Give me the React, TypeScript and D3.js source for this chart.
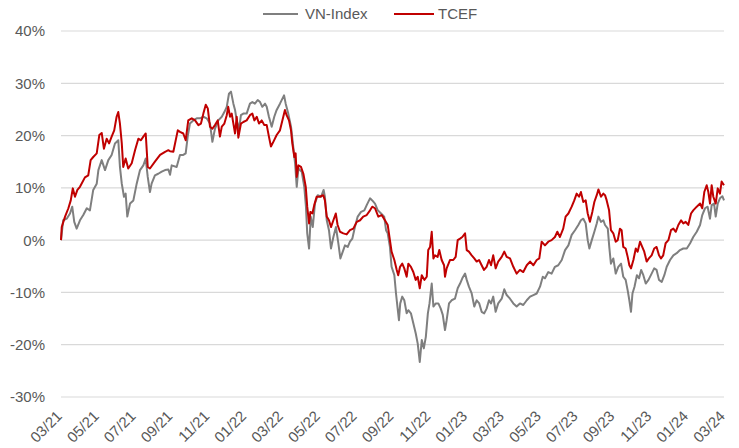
import React from "react";
import * as d3 from "d3";

// Time in months since 03/2021, value in %
const tickLabels = ["03/21","05/21","07/21","09/21","11/21","01/22","03/22","05/22","07/22","09/22","11/22","01/23","03/23","05/23","07/23","09/23","11/23","01/24","03/24"];
const yTicks = [-30, -20, -10, 0, 10, 20, 30, 40];

const vnIndex: [number, number][] = [
[0,0],[0.12,3.8],[0.31,4.1],[0.49,5.1],[0.61,6.4],[0.72,3.5],[0.85,2.2],[1.03,3.8],[1.21,4.8],[1.4,6.1],[1.57,5.7],[1.75,9.6],[1.94,10.8],[2.03,13.4],[2.21,15.3],[2.39,13.4],[2.57,15.3],[2.75,16.3],[2.93,18.5],[3.11,19.1],[3.2,14.0],[3.3,10.8],[3.42,8.3],[3.51,8.9],[3.6,4.5],[3.75,7.0],[3.93,7.6],[4.11,10.8],[4.29,13.4],[4.47,14.3],[4.6,15.6],[4.71,12.1],[4.83,9.2],[4.92,10.8],[5.1,12.4],[5.28,12.7],[5.47,13.1],[5.65,13.4],[5.83,13.5],[5.92,12.5],
[6.01,14.3],[6.28,14.0],[6.46,16.3],[6.64,16.3],[6.77,16.6],[6.88,19.8],[7.0,22.3],[7.18,22.9],[7.37,23.3],[7.55,23.3],[7.73,23.6],[7.91,23.3],[8.09,22.3],[8.22,18.8],[8.36,21.3],[8.54,22.9],[8.73,23.6],[8.87,24.5],[9.0,25.5],[9.12,28.0],[9.23,28.4],[9.36,26.1],[9.45,24.9],[9.54,22.9],[9.67,21.3],[9.77,23.9],[9.9,24.2],[10.08,24.2],[10.26,26.1],[10.39,26.4],[10.53,26.1],[10.68,26.8],[10.81,26.4],[10.93,25.5],[11.08,26.1],[11.17,25.5],[11.29,23.6],[11.44,21.7],[11.58,23.6],[11.71,24.9],[11.89,26.1],
[12.11,27.7],[12.2,26.1],[12.34,24.2],[12.49,21.7],[12.61,17.9],[12.71,14.7],[12.8,10.2],[12.89,13.7],[13.07,13.1],[13.21,10.2],[13.3,6.4],[13.37,1.3],[13.47,-1.6],[13.56,4.5],[13.67,2.5],[13.79,7.0],[13.94,8.6],[14.12,8.3],[14.26,9.6],[14.33,8.3],[14.43,3.8],[14.55,1.9],[14.66,-1.6],[14.79,0.6],[14.93,2.5],[15.06,-0.6],[15.17,-3.5],[15.3,-2.2],[15.42,-1.0],[15.57,-1.3],[15.69,-0.3],[15.82,0.3],[15.96,2.5],[16.11,4.5],[16.29,5.4],[16.47,5.7],[16.6,6.7],[16.78,8.0],[16.9,7.6],[17.05,7.0],[17.2,5.7],[17.38,5.1],[17.55,4.5],[17.65,1.9],[17.74,1.3],
[17.86,-1.3],[17.95,-5.1],[18.1,-6.7],[18.19,-10.2],[18.28,-13.1],[18.35,-15.3],[18.42,-12.1],[18.53,-10.8],[18.64,-11.5],[18.77,-14.0],[18.86,-13.4],[19.0,-14.0],[19.13,-15.9],[19.26,-17.8],[19.37,-19.8],[19.48,-23.3],[19.59,-19.1],[19.7,-20.7],[19.81,-18.5],[19.92,-14.0],[20.01,-12.1],[20.13,-8.3],[20.22,-12.7],[20.35,-12.1],[20.49,-12.1],[20.62,-13.1],[20.73,-14.3],[20.85,-17.2],[20.94,-15.3],[21.07,-12.1],[21.21,-11.5],[21.39,-11.2],[21.54,-9.2],[21.67,-8.3],[21.79,-7.3],[21.94,-6.4],[22.03,-7.6],[22.15,-8.9],[22.3,-10.2],[22.44,-12.7],[22.57,-11.5],[22.71,-12.1],[22.84,-13.7],[22.98,-14.0],[23.11,-13.1],[23.24,-11.5],[23.35,-12.1],[23.47,-10.8],[23.6,-13.7],[23.74,-12.1],
[23.93,-11.2],[24.07,-9.4],[24.2,-10.5],[24.38,-11.2],[24.56,-12.1],[24.74,-12.7],[24.92,-12.1],[25.1,-12.4],[25.29,-11.5],[25.47,-10.8],[25.65,-10.5],[25.83,-10.2],[26.01,-8.9],[26.16,-7.0],[26.28,-7.3],[26.46,-6.1],[26.64,-6.4],[26.82,-5.1],[27.0,-4.8],[27.19,-3.8],[27.37,-1.9],[27.55,-1.0],[27.73,1.0],[27.91,1.9],[28.09,2.9],[28.23,3.8],[28.36,4.1],[28.49,3.2],[28.6,0.0],[28.69,-1.6],[28.82,0.0],[28.96,1.6],[29.09,3.2],[29.18,4.5],[29.32,3.5],[29.45,3.8],[29.54,2.9],[29.69,2.2],[29.77,-1.3],[29.86,-4.5],[29.99,-3.5],[30.12,-6.4],[30.26,-5.1],[30.41,-4.5],[30.53,-7.0],[30.66,-7.6],[30.77,-9.6],[30.86,-11.5],[30.95,-13.7],[31.03,-10.2],[31.14,-8.9],[31.27,-6.7],[31.39,-7.3],[31.5,-5.7],[31.62,-6.7],[31.75,-8.3],[31.9,-7.6],[32.07,-6.4],[32.21,-5.4],[32.34,-5.7],[32.47,-7.6],[32.62,-8.0],[32.76,-6.7],[32.89,-5.1],[33.07,-3.8],[33.25,-2.9],[33.43,-2.5],[33.61,-1.9],[33.79,-1.6],[33.98,-1.6],[34.16,-0.6],[34.33,0.6],[34.52,1.6],[34.7,2.9],[34.82,4.8],[34.97,6.1],[35.11,6.4],[35.24,4.1],[35.33,6.7],[35.46,7.0],[35.55,4.5],[35.66,7.0],[35.78,8.0],[35.91,8.4],[36.0,7.6]
];

const tcef: [number, number][] = [
[0,0],[0.04,2.5],[0.22,4.5],[0.4,6.1],[0.53,7.6],[0.64,9.9],[0.76,8.3],[0.89,9.6],[1.03,10.2],[1.3,12.0],[1.48,12.4],[1.61,15.3],[1.75,15.9],[1.94,16.6],[2.08,20.1],[2.21,20.5],[2.33,17.5],[2.48,19.4],[2.61,18.5],[2.75,19.8],[2.89,21.0],[3.02,23.6],[3.11,24.5],[3.2,22.3],[3.3,18.5],[3.38,14.0],[3.51,15.6],[3.65,13.7],[3.84,14.7],[4.02,17.2],[4.2,19.4],[4.34,19.1],[4.47,19.8],[4.6,20.4],[4.71,14.0],[4.83,13.7],[5.1,15.0],[5.38,16.3],[5.65,16.9],[5.83,17.2],[5.92,17.0],
[6.1,16.9],[6.34,21.0],[6.46,20.7],[6.64,20.4],[6.77,19.1],[6.91,22.9],[7.1,23.3],[7.28,22.9],[7.46,22.0],[7.6,22.3],[7.73,24.2],[7.86,25.9],[7.97,25.2],[8.09,21.7],[8.22,21.3],[8.36,22.0],[8.51,22.9],[8.63,19.8],[8.73,21.7],[8.87,22.3],[9.0,23.9],[9.08,25.5],[9.18,23.6],[9.27,24.2],[9.36,22.3],[9.45,20.4],[9.54,23.6],[9.63,19.6],[9.77,22.3],[9.9,22.6],[10.08,22.9],[10.26,23.9],[10.39,24.2],[10.5,22.9],[10.63,23.6],[10.75,22.3],[10.9,22.9],[11.04,22.0],[11.17,22.0],[11.29,19.8],[11.4,17.9],[11.53,18.8],[11.71,20.1],[11.89,21.0],
[12.02,22.9],[12.16,24.9],[12.25,23.9],[12.38,22.9],[12.49,21.0],[12.56,18.5],[12.67,15.9],[12.74,16.6],[12.8,12.1],[12.89,14.3],[13.03,14.0],[13.16,12.7],[13.29,10.2],[13.37,6.4],[13.47,3.2],[13.54,5.4],[13.65,5.1],[13.75,6.7],[13.88,8.3],[14.06,8.3],[14.24,8.6],[14.33,7.6],[14.43,4.5],[14.55,3.8],[14.66,2.5],[14.79,3.8],[14.92,5.1],[15.02,2.9],[15.15,1.6],[15.33,1.3],[15.51,1.1],[15.69,1.9],[15.87,2.2],[16.06,3.5],[16.24,3.8],[16.41,4.5],[16.6,4.8],[16.78,5.7],[16.9,6.4],[17.05,6.1],[17.23,4.5],[17.41,4.8],[17.59,3.8],[17.74,2.9],
[17.86,0.0],[17.95,-2.2],[18.1,-3.8],[18.23,-5.7],[18.31,-6.7],[18.41,-5.1],[18.53,-4.5],[18.64,-5.4],[18.77,-7.0],[18.86,-4.5],[19.0,-5.1],[19.13,-6.1],[19.26,-7.6],[19.37,-7.0],[19.48,-9.2],[19.59,-6.7],[19.73,-7.6],[19.86,-7.0],[19.94,-1.9],[20.04,-1.3],[20.13,1.6],[20.22,-3.5],[20.31,-2.9],[20.45,-3.2],[20.54,-1.9],[20.67,-3.8],[20.8,-4.8],[20.85,-7.0],[20.94,-5.4],[21.12,-3.8],[21.3,-3.8],[21.43,-3.2],[21.54,0.0],[21.67,0.3],[21.79,0.6],[21.94,1.3],[22.03,-1.9],[22.15,-2.2],[22.3,-2.9],[22.44,-3.5],[22.57,-4.1],[22.7,-3.8],[22.84,-4.8],[22.97,-5.7],[23.11,-5.1],[23.24,-3.8],[23.35,-4.8],[23.47,-2.9],[23.6,-5.4],[23.74,-4.1],
[23.93,-3.2],[24.07,-2.2],[24.2,-3.2],[24.38,-3.5],[24.56,-5.1],[24.74,-6.4],[24.92,-5.7],[25.1,-6.1],[25.29,-4.8],[25.47,-4.1],[25.65,-4.8],[25.83,-3.8],[25.97,-3.5],[26.1,-0.3],[26.28,-1.0],[26.46,-0.3],[26.64,0.0],[26.82,0.6],[26.95,1.6],[27.09,0.6],[27.27,2.2],[27.4,4.5],[27.55,5.1],[27.73,6.4],[27.87,7.6],[28.0,8.9],[28.13,8.3],[28.23,9.2],[28.36,7.3],[28.49,7.6],[28.6,5.1],[28.72,3.5],[28.85,5.4],[28.96,7.3],[29.09,8.6],[29.18,9.7],[29.32,8.3],[29.45,8.9],[29.54,8.6],[29.63,7.6],[29.76,5.7],[29.86,1.9],[29.99,1.3],[30.12,-0.3],[30.23,0.0],[30.35,2.2],[30.44,1.9],[30.53,-1.3],[30.66,-1.6],[30.77,-3.2],[30.86,-4.8],[30.95,-5.4],[31.08,-3.8],[31.21,-1.6],[31.31,-2.2],[31.44,-0.3],[31.56,-1.3],[31.67,-2.2],[31.8,-4.1],[31.92,-3.5],[32.07,-2.9],[32.21,-1.6],[32.34,-1.3],[32.47,-2.9],[32.58,-3.5],[32.7,-2.9],[32.83,-0.6],[32.98,0.0],[33.12,1.9],[33.25,2.2],[33.38,1.6],[33.52,2.9],[33.67,3.8],[33.79,3.2],[33.92,3.5],[34.06,2.9],[34.21,5.1],[34.33,5.7],[34.52,6.4],[34.7,7.0],[34.82,6.1],[34.93,9.2],[35.06,10.5],[35.15,9.2],[35.24,7.0],[35.33,10.5],[35.42,8.3],[35.55,7.0],[35.66,9.9],[35.78,8.9],[35.87,11.2],[36.0,10.5]
];

const W = 739, H = 448;
const plot = { left: 61, right: 724, top: 31, bottom: 397 };
const font = "'Liberation Sans', Arial, sans-serif";
const textColor = "#595959";

export default function App() {
  const x = d3.scaleLinear().domain([0, 36]).range([plot.left, plot.right]);
  const y = d3.scaleLinear().domain([-30, 40]).range([plot.bottom, plot.top]);
  const line = d3.line<[number, number]>().x(d => x(d[0])).y(d => y(d[1])).curve(d3.curveLinear);

  return (
    <svg width={W} height={H} style={{ position: "absolute", left: 0, top: 0, background: "#fff" }} fontFamily={font}>
      {yTicks.map(t => (
        <g key={t}>
          <line x1={plot.left} x2={plot.right} y1={y(t)} y2={y(t)} stroke="#d9d9d9" strokeWidth={1.2} />
          <text x={45} y={y(t)} dy="0.36em" textAnchor="end" fontSize={15} fill={textColor}>{t}%</text>
        </g>
      ))}
      {tickLabels.map((lab, i) => {
        const tx = x(i * 2);
        return (
          <text key={lab} transform={`translate(${tx + 2},${plot.bottom + 20}) rotate(-45)`} textAnchor="end" fontSize={15} fill={textColor}>{lab}</text>
        );
      })}
      <path d={line(vnIndex) || ""} fill="none" stroke="#7f7f7f" strokeWidth={2} strokeLinejoin="round" />
      <path d={line(tcef) || ""} fill="none" stroke="#c00000" strokeWidth={2} strokeLinejoin="round" />
      <g>
        <line x1={263} x2={298} y1={14} y2={14} stroke="#7f7f7f" strokeWidth={2} />
        <text x={305} y={19} fontSize={15} fill={textColor}>VN-Index</text>
        <line x1={394} x2={434} y1={14} y2={14} stroke="#c00000" strokeWidth={2} />
        <text x={438} y={19} fontSize={15} fill={textColor}>TCEF</text>
      </g>
    </svg>
  );
}
